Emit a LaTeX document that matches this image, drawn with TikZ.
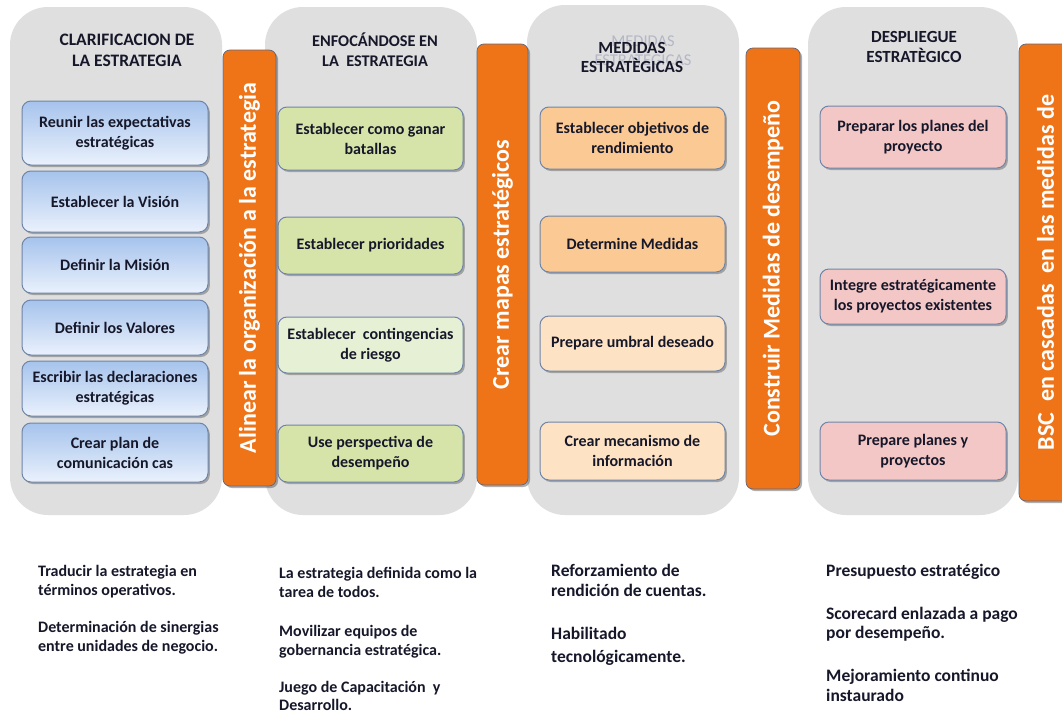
\documentclass[tikz,border=0pt]{standalone}
\usepackage{fontspec}
\setmainfont{Carlito}
\usetikzlibrary{shadows}

\definecolor{colgray}{HTML}{DFDFDF}
\definecolor{barorange}{HTML}{EF7417}
\definecolor{barline}{HTML}{5C6680}
\definecolor{boxline}{HTML}{6F85A8}
\definecolor{inktext}{HTML}{16182A}
\definecolor{blueTop}{HTML}{A6C3EC}
\definecolor{blueBot}{HTML}{EAF1FC}
\definecolor{greenA}{HTML}{D6E4AA}
\definecolor{greenB}{HTML}{E6F0D4}
\definecolor{peachA}{HTML}{FBC993}
\definecolor{peachB}{HTML}{FDE2C3}
\definecolor{pinkA}{HTML}{F4C7C7}
\definecolor{ghost}{HTML}{B4B7C6}

\tikzset{
  column/.style={fill=colgray, rounded corners=38pt},
  bar/.style={fill=barorange, draw=barline, line width=0.7pt, rounded corners=7pt,
    rotate=90, text=white, inner sep=0pt,
    font=\fontsize{24}{28}\selectfont\bfseries,
    drop shadow={shadow xshift=2pt, shadow yshift=-2pt, opacity=0.45, fill=black!70}},
  stepbox/.style={draw=boxline, line width=1pt, rounded corners=9pt, align=center,
    text=inktext, inner sep=2pt, font=\fontsize{16}{20}\selectfont\bfseries,
    drop shadow={shadow xshift=1.8pt, shadow yshift=-2pt, opacity=0.35, fill=black!80}},
  bluebox/.style={stepbox, top color=blueTop, bottom color=blueBot, minimum width=186pt},
  greenbox/.style={stepbox, fill=#1, minimum width=185pt},
  peachbox/.style={stepbox, fill=#1, minimum width=185pt},
  pinkbox/.style={stepbox, fill=pinkA, minimum width=186pt},
  header/.style={align=center, text=inktext},
  note/.style={anchor=north west, align=left, inner sep=0pt, text=inktext,
    font=\fontsize{16}{19}\selectfont\bfseries},
  bignote/.style={note, font=\fontsize{17.5}{#1}\selectfont\bfseries}
}

\begin{document}
\begin{tikzpicture}[x=1pt,y=-1pt]
\useasboundingbox (0,0) rectangle (1062,715);
\fill[white] (0,0) rectangle (1062,715);

% grey columns
\path[column] (10,7) rectangle (222,515);
\path[column] (265,7) rectangle (477,515);
\path[column] (527,5) rectangle (739,515);
\path[column] (808,7) rectangle (1018,515);

% column headings
\node[header, font=\fontsize{17.5}{21}\selectfont\bfseries] (h1) at (127,50.5) {CLARIFICACION DE\\LA ESTRATEGIA};
\node[header, font=\fontsize{16.3}{20}\selectfont\bfseries] (h2) at (375,50) {ENFOCÁNDOSE EN\\LA\ \ ESTRATEGIA};
\node[header, text=ghost, font=\fontsize{16.5}{19}\selectfont] (h3g) at (643,51) {MEDIDAS\\ESTRATÈGICAS};
\node[header, font=\fontsize{17}{19}\selectfont\bfseries] (h3) at (632,57.5) {MEDIDAS\\ESTRATÈGICAS};
\node[header, font=\fontsize{17}{20}\selectfont\bfseries] (h4) at (914,47) {DESPLIEGUE\\ESTRATÈGICO};

% clarification steps
\node[bluebox, minimum height=64pt] (b1) at (115,133) {Reunir las expectativas\\estratégicas};
\node[bluebox, minimum height=61pt] (b2) at (115,201.5) {Establecer la Visión};
\node[bluebox, minimum height=56pt] (b3) at (115,265) {Definir la Misión};
\node[bluebox, minimum height=55pt] (b4) at (115,327.5) {Definir los Valores};
\node[bluebox, minimum height=55pt] (b5) at (115,388.5) {Escribir las declaraciones\\estratégicas};
\node[bluebox, minimum height=59pt] (b6) at (115,452.5) {Crear plan de\\comunicación cas};

% focus steps
\node[greenbox=greenA, minimum height=63pt] (g1) at (370.5,138.5) {Establecer como ganar\\batallas};
\node[greenbox=greenA, minimum height=57pt] (g2) at (370.5,245.5) {Establecer prioridades};
\node[greenbox=greenB, minimum height=56pt] (g3) at (370.5,345) {Establecer\ \ contingencias\\de riesgo};
\node[greenbox=greenA, minimum height=57pt] (g4) at (370.5,453.5) {Use perspectiva de\\desempeño};

% measure steps
\node[peachbox=peachA, minimum height=62pt] (p1) at (632.5,138) {Establecer objetivos de\\rendimiento};
\node[peachbox=peachA, minimum height=56pt] (p2) at (632.5,244) {Determine Medidas};
\node[peachbox=peachB, minimum height=55pt] (p3) at (632.5,343.5) {Prepare umbral deseado};
\node[peachbox=peachB, minimum height=58pt] (p4) at (632.5,451) {Crear mecanismo de\\información};

% deployment steps
\node[pinkbox, minimum height=62pt] (k1) at (913,137) {Preparar los planes del\\proyecto};
\node[pinkbox, minimum height=55pt] (k2) at (913,296.5) {Integre estratégicamente\\los proyectos existentes};
\node[pinkbox, minimum height=58pt] (k3) at (913,451) {Prepare planes y\\proyectos};

% orange transition bars
\node[bar, minimum width=436pt, minimum height=53pt] (bar1) at (249.5,268) {Alinear la organización a la estrategia};
\node[bar, minimum width=441pt, minimum height=51pt] (bar2) at (502.5,264.5) {Crear mapas estratégicos};
\node[bar, minimum width=441pt, minimum height=54pt] (bar3) at (773,268.5) {Construir Medidas de desempeño};
\node[bar, minimum width=457pt, minimum height=53pt] (bar4) at (1045.5,272.5) {BSC\ \ en cascadas\ \ en las medidas de};

% outcomes below each column
\node[note] (n1a) at (38,565) {Traducir la estrategia en\\términos operativos.};
\node[note] (n1b) at (38,621) {Determinación de sinergias\\entre unidades de negocio.};
\node[note] (n2a) at (279,567) {La estrategia definida como la\\tarea de todos.};
\node[note] (n2b) at (279,625) {Movilizar equipos de\\gobernancia estratégica.};
\node[note, font=\fontsize{16}{18.5}\selectfont\bfseries] (n2c) at (279,681) {Juego de Capacitación\ \ y\\Desarrollo.};
\node[bignote=20] (n3a) at (551,564) {Reforzamiento de\\rendición de cuentas.};
\node[bignote=23] (n3b) at (551,627) {Habilitado\\tecnológicamente.};
\node[bignote=19] (n4a) at (826,564) {Presupuesto estratégico};
\node[bignote=19] (n4b) at (826,607) {Scorecard enlazada a pago\\por desempeño.};
\node[bignote=20] (n4c) at (826,669) {Mejoramiento continuo\\instaurado};
\end{tikzpicture}
\end{document}
